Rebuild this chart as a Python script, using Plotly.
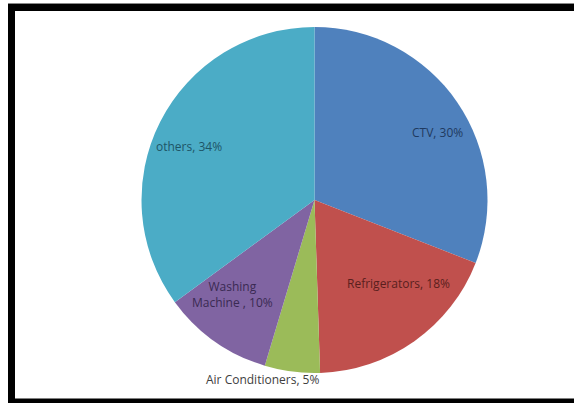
import plotly.graph_objects as go

W, H = 574, 403

categories = ["CTV", "Refrigerators", "Air Conditioners", "Washing<br>Machine ", "others"]
shares = [30, 18, 5, 10, 34]
slice_colors = ["#4F81BD", "#C0504D", "#9BBB59", "#8064A2", "#4BACC6"]
text_colors = ["#1F3A60", "#5A1F1D", "#404040", "#3A2A52", "#1E5566"]

# label anchor points (page pixels), like Excel's best-fit placement
label_pos = [(438, 132), (398, 283), (262, 379), (232, 294), (189, 146)]

# pie geometry (pixels)
cx, cy, r = 314.5, 200, 173

fig = go.Figure(
    go.Pie(
        labels=categories,
        values=shares,
        sort=False,
        direction="clockwise",
        rotation=0,
        marker=dict(colors=slice_colors, line=dict(width=0)),
        textinfo="none",
        showlegend=False,
        hoverinfo="label+value",
        automargin=False,
        domain=dict(x=[(cx - r) / W, (cx + r) / W], y=[(H - cy - r) / H, (H - cy + r) / H]),
    )
)

annotations = []
for lab, val, col, (px, py) in zip(categories, shares, text_colors, label_pos):
    annotations.append(dict(
        text=f"{lab}, {val}%",
        x=px / W, y=1 - py / H, xref="paper", yref="paper",
        xanchor="center", yanchor="middle", showarrow=False,
        font=dict(family="Open Sans, sans-serif", size=12, color=col),
    ))

shapes = [
    dict(type="rect", xref="paper", yref="paper", x0=8 / W, x1=1, y0=1 - 11 / H, y1=1 - 4 / H,
         fillcolor="black", line=dict(width=0)),
    dict(type="rect", xref="paper", yref="paper", x0=8 / W, x1=15 / W, y0=0, y1=1 - 4 / H,
         fillcolor="black", line=dict(width=0)),
    dict(type="rect", xref="paper", yref="paper", x0=8 / W, x1=1, y0=0, y1=4.5 / H,
         fillcolor="black", line=dict(width=0)),
    dict(type="line", xref="paper", yref="paper", x0=8 / W, x1=1, y0=1 - 3.5 / H, y1=1 - 3.5 / H,
         line=dict(color="#888888", width=1)),
]

fig.update_layout(
    width=W,
    height=H,
    margin=dict(l=0, r=0, t=0, b=0),
    paper_bgcolor="white",
    plot_bgcolor="white",
    shapes=shapes,
    annotations=annotations,
)

fig.write_html(
    "out.html",
    config={"displayModeBar": False},
    post_script="document.body.style.margin='0';document.body.style.overflow='hidden';",
)
